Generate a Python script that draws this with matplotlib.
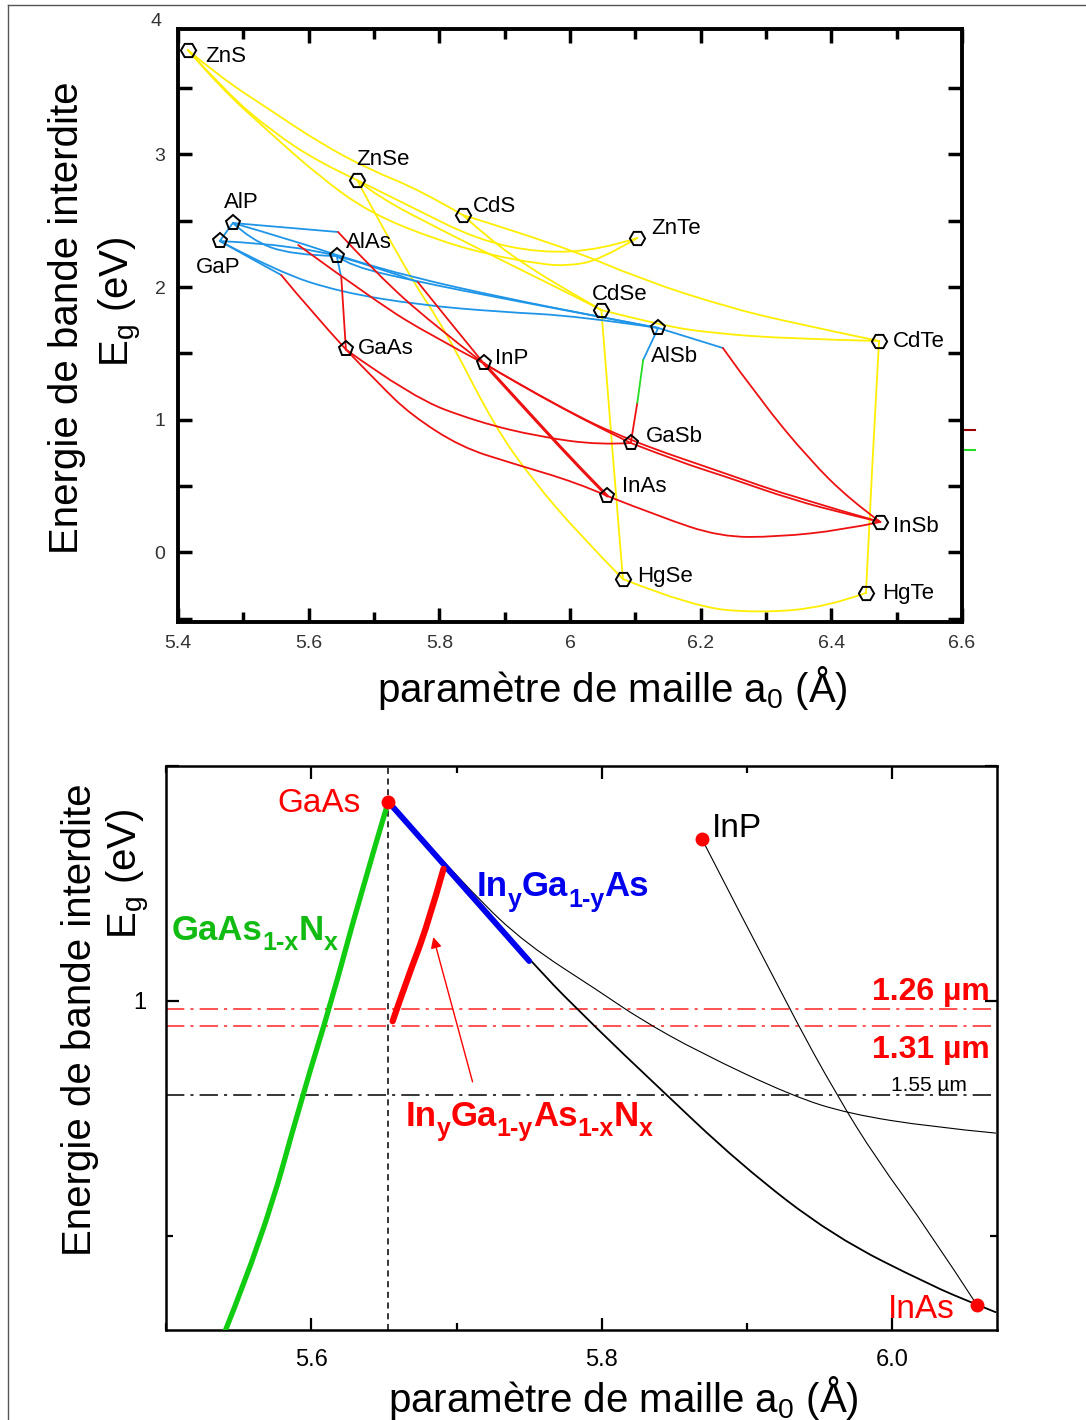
import matplotlib
matplotlib.use('Agg')
import matplotlib.pyplot as plt
from matplotlib.path import Path
from matplotlib.patches import PathPatch
from matplotlib.lines import Line2D
from matplotlib.ticker import MultipleLocator, FixedLocator, FuncFormatter
from matplotlib.transforms import blended_transform_factory

plt.rcParams['font.family'] = ['Liberation Sans', 'DejaVu Sans']
plt.rcParams['mathtext.fontset'] = 'custom'
plt.rcParams['mathtext.rm'] = 'Liberation Sans'
plt.rcParams['mathtext.it'] = 'Liberation Sans:italic'
plt.rcParams['mathtext.bf'] = 'Liberation Sans:bold'

# ---------------- upper panel: binary compounds (a0 in A, Eg in eV)
names = ['ZnS', 'ZnSe', 'CdS', 'ZnTe', 'CdSe', 'CdTe', 'HgSe', 'HgTe',
         'AlP', 'GaP', 'AlAs', 'GaAs', 'InP', 'AlSb', 'GaSb', 'InAs', 'InSb']
a0 = [5.415, 5.674, 5.836, 6.103, 6.048, 6.473, 6.081, 6.453,
      5.484, 5.464, 5.643, 5.657, 5.868, 6.135, 6.093, 6.057, 6.475]
eg = [3.787, 2.807, 2.543, 2.370, 1.827, 1.594, -0.200, -0.305,
      2.483, 2.347, 2.234, 1.530, 1.425, 1.692, 0.825, 0.426, 0.230]
hexagonal = ['ZnS', 'ZnSe', 'CdS', 'ZnTe', 'CdSe', 'CdTe', 'HgSe', 'HgTe', 'InSb']

# II-VI ternaries
ZnS_ZnSe = [(5.415, 3.787), (5.475, 3.463), (5.541, 3.184), (5.617, 2.936), (5.674, 2.807)]
ZnS_CdS = [(5.415, 3.787), (5.464, 3.584), (5.541, 3.335), (5.617, 3.086), (5.694, 2.883),
           (5.770, 2.732), (5.836, 2.543)]
ZnS_ZnTe = [(5.415, 3.787), (5.464, 3.508), (5.536, 3.184), (5.617, 2.830), (5.694, 2.558),
            (5.796, 2.355), (5.878, 2.242), (5.954, 2.174), (5.997, 2.159), (6.046, 2.204),
            (6.103, 2.370)]
ZnSe_ZnTe = [(5.674, 2.807), (5.757, 2.604), (5.859, 2.355), (5.954, 2.257), (6.046, 2.280),
             (6.103, 2.370)]
CdS_CdTe = [(5.836, 2.543), (5.985, 2.317), (6.112, 2.053), (6.240, 1.850), (6.341, 1.729),
            (6.473, 1.594)]
ZnSe_CdSe = [(5.674, 2.807), (5.706, 2.679), (5.809, 2.415), (5.910, 2.167), (6.012, 1.918),
             (6.048, 1.827)]
CdS_CdSe = [(5.836, 2.543), (5.878, 2.355), (5.939, 2.144), (6.000, 1.963), (6.048, 1.827)]
CdSe_CdTe = [(6.048, 1.827), (6.138, 1.714), (6.214, 1.654), (6.341, 1.609), (6.473, 1.594)]
ZnSe_HgSe = [(5.674, 2.807), (5.748, 2.129), (5.809, 1.677), (5.885, 0.946), (5.943, 0.546),
             (6.012, 0.147), (6.081, -0.200)]
CdSe_HgSe = [(6.048, 1.827), (6.064, 0.810), (6.081, -0.200)]
CdTe_HgTe = [(6.473, 1.594), (6.462, 0.622), (6.453, -0.305)]
HgSe_HgTe = [(6.081, -0.200), (6.188, -0.411), (6.291, -0.456), (6.393, -0.411), (6.453, -0.305)]

# III-V ternaries, indirect gap parts
AlP_GaP = [(5.484, 2.483), (5.464, 2.347)]
AlP_AlAs = [(5.484, 2.483), (5.512, 2.355), (5.573, 2.242), (5.643, 2.234)]
GaP_AlAs = [(5.464, 2.347), (5.584, 2.317), (5.643, 2.234)]
AlP_InP_ind = [(5.484, 2.483), (5.645, 2.415)]
GaP_GaAs_ind = [(5.464, 2.347), (5.510, 2.219), (5.558, 2.091)]
AlAs_GaAs_ind = [(5.643, 2.234), (5.650, 2.069)]
AlAs_InP_ind = [(5.643, 2.234), (5.709, 2.144), (5.767, 2.038)]
AlAs_AlSb = [(5.643, 2.234), (5.663, 2.159), (5.770, 2.038), (5.893, 1.918), (6.015, 1.805),
             (6.135, 1.692)]
AlP_AlSb = [(5.484, 2.483), (5.579, 2.347), (5.656, 2.219), (5.757, 2.076), (5.893, 1.925),
            (6.046, 1.775), (6.135, 1.692)]
GaP_AlSb = [(5.464, 2.347), (5.553, 2.114), (5.648, 1.963), (5.770, 1.865), (5.893, 1.813),
            (6.012, 1.782), (6.135, 1.692)]
AlSb_InSb_ind = [(6.135, 1.692), (6.234, 1.541)]
AlSb_GaSb_ind = [(6.135, 1.692), (6.112, 1.451)]
AlSb_GaSb_L = [(6.112, 1.451), (6.103, 1.127)]

# III-V ternaries, direct gap parts
AlAs_GaAs = [(5.650, 2.069), (5.657, 1.530)]
GaP_GaAs = [(5.558, 2.091), (5.602, 1.827), (5.657, 1.530)]
GaP_InP = [(5.584, 2.317), (5.706, 1.880), (5.786, 1.639), (5.868, 1.425)]
AlP_InP = [(5.645, 2.415), (5.706, 2.091), (5.786, 1.737), (5.868, 1.425)]
AlAs_InP = [(5.767, 2.038), (5.816, 1.737), (5.868, 1.425)]
GaAs_GaSb = [(5.657, 1.530), (5.757, 1.172), (5.859, 0.983), (5.954, 0.871), (6.046, 0.810),
             (6.093, 0.825)]
GaAs_InAs = [(5.657, 1.530), (5.709, 1.262), (5.757, 1.036), (5.833, 0.795), (5.910, 0.674),
             (6.012, 0.524), (6.057, 0.426)]
InP_InAs = [(5.868, 1.425), (5.954, 0.961), (6.015, 0.637), (6.057, 0.426)]
InP_GaSb = [(5.868, 1.425), (5.924, 1.262), (5.985, 1.096), (6.046, 0.938), (6.093, 0.825)]
InP_InSb = [(5.868, 1.425), (5.985, 1.089), (6.093, 0.840), (6.240, 0.592), (6.341, 0.418),
            (6.475, 0.230)]
GaSb_InSb = [(6.093, 0.825), (6.168, 0.682), (6.240, 0.569), (6.341, 0.396), (6.429, 0.283),
             (6.475, 0.230)]
InAs_InSb = [(6.057, 0.426), (6.138, 0.268), (6.230, 0.117), (6.317, 0.117), (6.418, 0.170),
             (6.475, 0.230)]
AlSb_InSb = [(6.234, 1.541), (6.291, 1.149), (6.367, 0.697), (6.429, 0.396), (6.475, 0.230)]
AlSb_GaSb = [(6.103, 1.127), (6.093, 0.825)]

II_VI_curves = [ZnS_ZnSe, ZnS_CdS, ZnS_ZnTe, ZnSe_ZnTe, CdS_CdTe, ZnSe_CdSe, CdS_CdSe,
                CdSe_CdTe, ZnSe_HgSe, CdSe_HgSe, CdTe_HgTe, HgSe_HgTe]
indirect_curves = [AlP_GaP, AlP_AlAs, GaP_AlAs, AlP_InP_ind, GaP_GaAs_ind, AlAs_GaAs_ind,
                   AlAs_InP_ind, AlAs_AlSb, AlP_AlSb, GaP_AlSb, AlSb_InSb_ind, AlSb_GaSb_ind]
direct_curves = [AlAs_GaAs, GaP_GaAs, GaP_InP, AlP_InP, AlAs_InP, GaAs_GaSb, GaAs_InAs,
                 InP_GaSb, InP_InSb, GaSb_InSb, InAs_InSb, AlSb_InSb, AlSb_GaSb]

# ---------------- lower panel: GaAs-based dilute nitrides
end_names = ['GaAs', 'InP', 'InAs']
end_a0 = [5.653, 5.869, 6.058]
end_eg = [1.424, 1.344, 0.354]
GaAsN = [(5.653, 1.424), (5.633, 1.217), (5.614, 1.000), (5.594, 0.800), (5.567, 0.500),
         (5.541, 0.300)]
InGaAs_strained = [(5.653, 1.424), (5.750, 1.085)]
InGaAsN = [(5.656, 0.957), (5.666, 1.047), (5.680, 1.160), (5.691, 1.281)]
InGaAs_relaxed = [(5.653, 1.424), (5.750, 1.085), (5.799, 0.934), (5.833, 0.834), (5.895, 0.653),
                  (5.959, 0.500), (6.027, 0.394), (6.058, 0.354), (6.071, 0.338)]
InGaAs_upper = [(5.653, 1.424), (5.711, 1.228), (5.748, 1.121), (5.799, 1.019), (5.826, 0.962),
                (5.867, 0.891), (5.931, 0.798), (5.970, 0.760), (6.027, 0.732), (6.071, 0.719)]
InAsP = [(5.869, 1.344), (5.929, 0.983), (5.962, 0.798), (5.989, 0.664), (6.025, 0.511),
         (6.058, 0.354)]
wavelengths_um = [1.26, 1.31, 1.55]

YELLOW = '#ffee00'
BLUE = '#1f95e8'
RED = '#ee1111'
GREEN = '#22dd22'

fig = plt.figure(figsize=(10.86, 14.2), dpi=100)


def smooth(ax, pts, color, lw, z=2):
    # quadratic Bezier through the midpoints, the read points act as control points
    verts = [pts[0]]
    codes = [Path.MOVETO]
    if len(pts) == 2:
        verts.append(pts[1])
        codes.append(Path.LINETO)
    else:
        for i in range(1, len(pts) - 1):
            end = pts[-1] if i == len(pts) - 2 else ((pts[i][0] + pts[i + 1][0]) / 2,
                                                    (pts[i][1] + pts[i + 1][1]) / 2)
            verts += [pts[i], end]
            codes += [Path.CURVE3, Path.CURVE3]
    ax.add_patch(PathPatch(Path(verts, codes), facecolor='none', edgecolor=color, lw=lw,
                           capstyle='round', joinstyle='round', zorder=z))


def formula(ax, x, y, parts, size, color):
    # chemical formula with plain hyphens in the subscripts
    renderer = fig.canvas.get_renderer()
    dx = 0.0
    for txt, sub in parts:
        t = ax.annotate(txt, (x, y), xytext=(dx, -0.3 * size if sub else 0),
                        textcoords='offset points', fontsize=0.72 * size if sub else size,
                        fontweight='bold', color=color, ha='left', va='baseline')
        dx += t.get_window_extent(renderer).width * 72 / fig.dpi


# ================= upper panel
ax1 = fig.add_axes([178 / 1086, 1 - 622 / 1420, 784 / 1086, 593 / 1420])
for group, col in [(II_VI_curves, YELLOW), (indirect_curves, BLUE), (direct_curves, RED)]:
    for pts in group:
        smooth(ax1, pts, col, 1.3)
smooth(ax1, AlSb_GaSb_L, GREEN, 1.3)
smooth(ax1, InP_InAs, RED, 2.2)

label_offsets = {'ZnS': (17, -12), 'ZnSe': (-1, 15), 'CdS': (10, 3), 'ZnTe': (14, 4),
                 'CdSe': (-9, 10), 'CdTe': (14, -6), 'HgSe': (14, -3), 'HgTe': (16, -6),
                 'AlP': (-9, 15), 'GaP': (-24, -32), 'AlAs': (9, 8), 'GaAs': (12, -5),
                 'InP': (11, -1), 'AlSb': (-7, -34), 'GaSb': (15, 1), 'InAs': (15, 4),
                 'InSb': (13, -10)}
for n, x, y in zip(names, a0, eg):
    ax1.plot(x, y, marker='H' if n in hexagonal else 'p', ms=11, mfc='none', mec='black',
             mew=1.4, zorder=4)
    ax1.annotate(n, (x, y), xytext=label_offsets[n], textcoords='offset pixels',
                 fontsize=16, ha='left', va='baseline', zorder=5)

ax1.set_xlim(5.4, 6.6)
ax1.set_ylim(-0.524, 3.945)
ax1.xaxis.set_major_locator(MultipleLocator(0.2))
ax1.xaxis.set_minor_locator(MultipleLocator(0.1))
ax1.yaxis.set_major_locator(MultipleLocator(1))
ax1.yaxis.set_minor_locator(MultipleLocator(0.5))
ax1.xaxis.set_major_formatter(FuncFormatter(lambda v, p: f'{v:g}'))
ax1.yaxis.set_major_formatter(FuncFormatter(lambda v, p: f'{v:g}'))
ax1.tick_params(which='both', direction='in', top=True, right=True, width=2.5,
                labelsize=14, labelcolor='#333333')
ax1.tick_params(which='major', length=10, pad=9)
ax1.tick_params(which='minor', length=7)
ax1.tick_params(axis='y', which='minor', length=10)
for s in ax1.spines.values():
    s.set_linewidth(2.8)
tr = blended_transform_factory(ax1.transAxes, ax1.transData)
ax1.text(-0.0216, 4.0, '4', transform=tr, ha='right', va='center', fontsize=14, color='#333333')
# short coloured marks past the right frame
ax1.plot([6.6, 6.62], [0.923, 0.923], color='#990000', lw=1.5, clip_on=False)
ax1.plot([6.6, 6.62], [0.772, 0.772], color=GREEN, lw=1.5, clip_on=False)

fig.text(67 / 1086, 1 - 318 / 1420, 'Energie de bande interdite', rotation=90,
         ha='center', va='center', fontsize=29)
fig.text(121 / 1086, 1 - 302 / 1420, r'E$_\mathrm{g}$ (eV)', rotation=90,
         ha='center', va='center', fontsize=29)
fig.text(612 / 1086, 1 - 688 / 1420, r'paramètre de maille a$_0$ (Å)',
         ha='center', va='center', fontsize=29)

# ================= lower panel
ax2 = fig.add_axes([166 / 1086, 1 - 1330 / 1420, 831 / 1086, 564 / 1420])
ax2.set_xlim(5.5, 6.072)
ax2.set_ylim(0.3, 1.5)

ax2.axvline(end_a0[0], color='black', lw=1.1, ls=(0, (4, 3)), zorder=1)
for wl, col in zip(wavelengths_um, ['#ff2222', '#ff2222', 'black']):
    ax2.axhline(1.23984 / wl, color=col, lw=1.1, ls=(0, (12, 4, 2, 4)), zorder=1)

smooth(ax2, InGaAs_upper, 'black', 0.8)
smooth(ax2, InGaAs_relaxed, 'black', 1.3)
smooth(ax2, InAsP, 'black', 0.8)
smooth(ax2, GaAsN, '#11cc11', 3.8, 3)
smooth(ax2, InGaAs_strained, '#0000ee', 4.2, 3)
smooth(ax2, InGaAsN, '#ff0000', 4.5, 3)
ax2.plot(end_a0, end_eg, 'o', color='#ff0000', ms=9, zorder=4)

ax2.text(5.634, 1.402, 'GaAs', color='#ff0000', fontsize=24, ha='right', va='baseline')
ax2.text(5.876, 1.349, 'InP', color='black', fontsize=24, ha='left', va='baseline')
ax2.text(6.043, 0.326, 'InAs', color='#ff0000', fontsize=24, ha='right', va='baseline')
formula(ax2, 5.714, 1.223, [('In', 0), ('y', 1), ('Ga', 0), ('1-y', 1), ('As', 0)],
        25, '#0000ee')
formula(ax2, 5.504, 1.130, [('GaAs', 0), ('1-x', 1), ('N', 0), ('x', 1)], 25, '#11bb11')
formula(ax2, 5.665, 0.734, [('In', 0), ('y', 1), ('Ga', 0), ('1-y', 1), ('As', 0), ('1-x', 1),
                            ('N', 0), ('x', 1)], 25, '#ff0000')
ax2.text(6.067, 1.002, '1.26 µm', color='#ff0000', fontsize=23, fontweight='bold',
         ha='right', va='baseline')
ax2.text(6.067, 0.879, '1.31 µm', color='#ff0000', fontsize=23, fontweight='bold',
         ha='right', va='baseline')
ax2.text(6.051, 0.809, '1.55 µm', color='black', fontsize=15, ha='right', va='baseline')
ax2.annotate('', xy=(5.684, 1.136), xytext=(5.711, 0.828),
             arrowprops=dict(arrowstyle='-|>', color='#ff0000', lw=1.0,
                             mutation_scale=16, shrinkA=0, shrinkB=0))

ax2.xaxis.set_major_locator(MultipleLocator(0.2))
ax2.xaxis.set_minor_locator(MultipleLocator(0.1))
ax2.xaxis.set_major_formatter(FuncFormatter(lambda v, p: f'{v:.1f}'))
ax2.yaxis.set_major_locator(FixedLocator([1.0, 1.5]))
ax2.yaxis.set_minor_locator(FixedLocator([0.5]))
ax2.yaxis.set_major_formatter(FuncFormatter(lambda v, p: '1' if abs(v - 1) < 1e-6 else ''))
ax2.tick_params(which='both', direction='in', top=True, right=True, width=1.6, labelsize=17)
ax2.tick_params(which='major', length=9, pad=14)
ax2.tick_params(which='minor', length=5)
for s in ax2.spines.values():
    s.set_linewidth(1.8)

fig.text(80 / 1086, 1 - 1020 / 1420, 'Energie de bande interdite', rotation=90,
         ha='center', va='center', fontsize=29)
fig.text(128 / 1086, 1 - 874 / 1420, r'E$_\mathrm{g}$ (eV)', rotation=90,
         ha='center', va='center', fontsize=29)
fig.text(623 / 1086, 1 - 1398 / 1420, r'paramètre de maille a$_0$ (Å)',
         ha='center', va='center', fontsize=29)

# page frame on the left and top edges
fig.add_artist(Line2D([8 / 1086, 8 / 1086], [0, 1 - 5 / 1420], color='#555555', lw=1.0))
fig.add_artist(Line2D([8 / 1086, 1], [1 - 5 / 1420, 1 - 5 / 1420], color='#555555', lw=1.0))

fig.savefig('out.png', dpi=100)
